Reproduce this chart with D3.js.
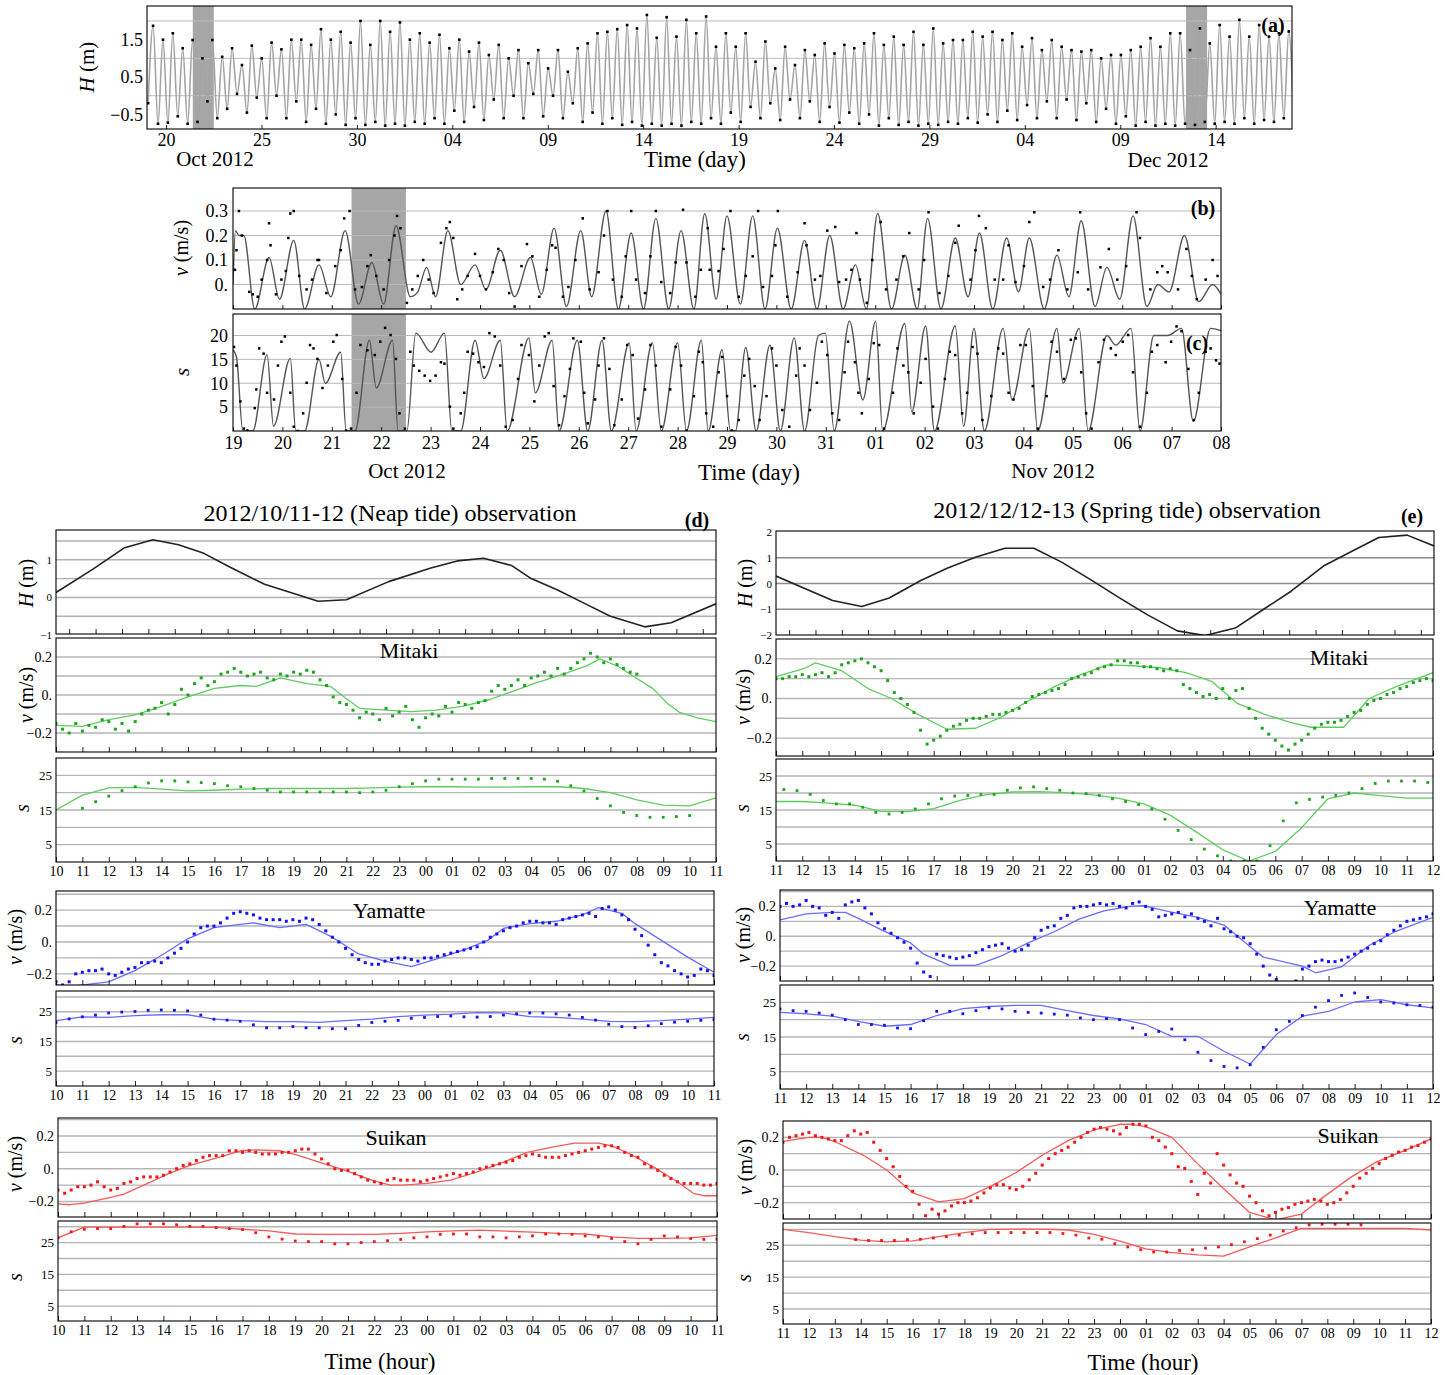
<!DOCTYPE html>
<html>
<head>
<meta charset="utf-8">
<title>Tide, velocity and salinity</title>
<style>
  body {margin: 0; background: #fff;}
  text {font-family: "Liberation Serif", "Times New Roman", serif; fill: #000;}
</style>
</head>
<body>
<svg width="1453" height="1375"></svg>
<script src="https://cdn.jsdelivr.net/npm/d3@7/dist/d3.min.js"></script>
<script>
// ================= data =================
// (a) tide level, alternating low / high water, regular half-cycle sampling
var tideT0 = 19.06, tideHalf = 0.25875;
var tideHighs = [1.87,1.5,1.67,1.27,1.49,1.0,1.49,1.04,1.27,0.82,1.34,1.0,1.42,1.24,1.5,1.5,1.36,1.78,1.5,1.71,
  1.42,2.0,1.36,2.0,1.71,1.96,1.5,1.67,1.42,1.63,1.27,1.5,1.18,1.42,1.09,1.36,1.0,1.22,0.87,1.22,
  0.73,1.22,0.64,1.27,1.4,1.67,1.71,1.78,1.89,1.8,2.16,1.55,2.1,
  1.58,2.03,1.67,2.12,1.31,1.67,1.31,1.67,0.91,1.45,0.73,1.31,0.82,1.22,1.09,1.4,1.13,1.36,1.27,1.4,
  1.67,1.36,1.58,1.36,1.71,1.36,1.8,1.4,1.49,1.49,1.71,1.58,1.71,1.49,1.67,1.31,1.54,1.22,1.49,1.31,
  1.22,1.18,1.22,1.0,1.09,1.09,1.22,1.31,1.54,1.31,1.67,1.67,1.22,1.8,1.4,1.89,1.58,2.03,1.58,1.89,1.58,1.67,1.72];
var tideLows = [-0.2,-0.75,-0.72,-0.55,-0.75,-0.7,-0.15,-0.6,-0.35,0.05,
  -0.45,-0.05,-0.6,0.0,-0.6,-0.15,-0.7,-0.35,
  -0.75,-0.5,-0.78,-0.6,-0.78,-0.7,-0.8,-0.75,-0.8,-0.7,-0.75,-0.6,-0.75,-0.4,
  -0.7,-0.3,-0.65,-0.1,-0.6,0.0,-0.6,0.05,-0.55,0.0,-0.6,-0.2,-0.7,-0.45,
  -0.75,-0.6,-0.78,-0.7,-0.8,-0.75,-0.8,-0.75,-0.8,-0.7,-0.75,-0.6,-0.75,-0.45,
  -0.7,-0.3,-0.6,-0.2,-0.65,-0.1,-0.6,-0.15,-0.7,-0.3,-0.72,-0.45,
  -0.75,-0.5,-0.8,-0.6,-0.78,-0.7,-0.8,-0.75,-0.78,-0.7,-0.75,-0.6,-0.72,-0.5,
  -0.7,-0.4,-0.65,-0.25,-0.6,-0.15,-0.6,-0.1,-0.65,-0.2,-0.7,-0.35,
  -0.75,-0.55,-0.8,-0.7,-0.8,-0.75,-0.8,-0.75,-0.78,-0.7,-0.75,-0.7,-0.75,-0.6,-0.75,-0.65,-0.7,-0.6,-0.65];
var shadeA = [[21.4, 22.5], [73.45, 74.55]];
var aTickDays = [20,25,30,35,40,45,50,55,60,65,70,75];
var aTickLabels = ["20","25","30","04","09","14","19","24","29","04","09","14"];

// (b) velocity, model knots [day of Oct, v] and observations
var bModel = [[19.0,0.0],[19.05,0.22],[19.12,0.2],[19.22,0.2],[19.44,-0.1],[19.73,0.11],[19.94,-0.06],[20.23,0.18],[20.45,-0.1],[20.74,0.08],
  [20.98,-0.05],[21.27,0.22],[21.54,-0.08],[21.81,0.09],[22.05,-0.08],[22.3,0.24],[22.59,-0.05],[22.74,-0.03],[22.92,0.07],[23.1,-0.05],
  [23.35,0.22],[23.61,0.0],[23.9,0.08],[24.12,-0.02],[24.41,0.14],[24.7,-0.05],[25.02,0.11],[25.24,-0.04],[25.5,0.23],[25.75,-0.09],
  [26.04,0.22],[26.26,-0.05],[26.55,0.3],[26.8,-0.1],[27.06,0.21],[27.31,-0.1],[27.56,0.27],[27.82,-0.1],[28.07,0.22],[28.33,-0.1],
  [28.55,0.29],[28.78,-0.06],[29.0,0.28],[29.27,-0.08],[29.52,0.28],[29.77,-0.1],[30.02,0.23],[30.3,-0.1],[30.57,0.18],[30.82,-0.1],
  [31.08,0.2],[31.35,-0.1],[31.6,0.08],[31.82,-0.1],[32.05,0.29],[32.33,-0.1],[32.6,0.12],[32.85,-0.1],[33.06,0.27],[33.33,-0.1],
  [33.62,0.19],[33.88,-0.05],[34.11,0.21],[34.38,-0.1],[34.66,0.19],[34.9,-0.03],[35.12,0.19],[35.42,-0.1],[35.68,0.12],[35.92,-0.05],
  [36.17,0.26],[36.45,-0.09],[36.69,0.07],[36.95,-0.06],[37.22,0.28],[37.5,-0.09],[37.72,0.0],[37.95,-0.03],[38.26,0.2],[38.55,-0.07],
  [38.83,0.0],[39.0,-0.04]];
var bObs = [[19.04,0.06],[19.07,0.14],[19.12,0.3],[19.18,0.2],[19.33,-0.03],[19.4,-0.04],[19.5,-0.05],[19.58,0.02],[19.69,0.1],[19.73,0.25],
  [19.76,0.16],[19.87,-0.04],[19.98,0.02],[20.07,0.055],[20.12,0.19],[20.16,0.29],[20.23,0.3],[20.34,0.035],[20.49,-0.02],[20.6,0.02],
  [20.71,0.1],[20.74,0.1],[20.89,-0.035],[21.07,0.075],[21.18,0.14],[21.25,0.27],[21.36,0.3],[21.47,-0.02],[21.61,-0.01],[21.72,0.075],
  [21.79,0.12],[21.9,0.035],[22.05,-0.02],[22.16,0.1],[22.27,0.2],[22.32,0.28],[22.39,0.23],[22.52,-0.075],[22.63,-0.02],[22.74,0.035],
  [22.85,0.1],[22.96,0.02],[23.06,-0.035],[23.21,0.17],[23.32,0.23],[23.39,0.255],[23.46,0.19],[23.54,-0.06],[23.64,-0.02],[23.75,0.035],
  [23.9,0.125],[24.0,0.035],[24.12,-0.02],[24.26,0.05],[24.37,0.145],[24.48,0.1],[24.59,-0.035],[24.7,-0.09],[24.84,0.075],[24.95,0.165],
  [25.06,0.115],[25.2,-0.05],[25.35,0.06],[25.46,0.16],[25.53,0.15],[25.68,-0.05],[25.79,-0.01],[25.93,0.1],[26.08,0.27],[26.22,-0.02],
  [26.4,0.05],[26.51,0.2],[26.58,0.3],[26.69,0.02],[26.87,-0.05],[26.95,0.115],[27.06,0.3],[27.16,0.02],[27.34,-0.035],[27.45,0.115],
  [27.56,0.3],[27.67,0.01],[27.85,-0.035],[27.96,0.09],[28.11,0.305],[28.18,0.09],[28.36,-0.05],[28.47,0.06],[28.61,0.23],[28.65,0.06],
  [28.83,0.055],[28.93,0.145],[29.07,0.3],[29.24,-0.05],[29.38,0.035],[29.52,0.115],[29.63,0.3],[29.73,-0.01],[29.91,0.035],[29.98,0.16],
  [30.03,0.3],[30.22,-0.05],[30.43,0.05],[30.57,0.25],[30.61,0.16],[30.78,0.02],[30.89,0.035],[31.03,0.22],[31.19,0.235],[31.27,0.01],
  [31.41,0.02],[31.52,0.06],[31.62,0.21],[31.69,0.02],[31.83,-0.075],[31.94,0.1],[32.11,0.255],[32.22,-0.02],[32.43,0.02],[32.57,0.115],
  [32.69,0.21],[32.88,-0.02],[32.99,0.1],[33.08,0.295],[33.3,-0.035],[33.48,0.035],[33.62,0.17],[33.69,0.24],[33.93,0.02],[34.03,0.14],
  [34.1,0.28],[34.24,0.23],[34.42,0.02],[34.59,0.02],[34.7,0.16],[34.84,0.01],[35.01,0.075],[35.12,0.255],[35.22,0.295],[35.4,-0.01],
  [35.54,0.02],[35.71,0.14],[35.89,-0.02],[36.1,0.05],[36.15,0.295],[36.31,-0.02],[36.56,0.07],[36.73,0.145],[36.9,0.02],[37.08,0.075],
  [37.29,0.295],[37.36,0.19],[37.57,-0.02],[37.71,0.05],[37.81,0.075],[37.92,0.05],[38.13,-0.02],[38.3,0.145],[38.41,0.035],[38.51,-0.06],
  [38.69,0.02],[38.83,0.1],[38.93,0.035]];

// (c) salinity, model knots and observations
var cModel = [[19.0,17],[19.07,15.5],[19.2,0],[19.4,0],[19.69,16],[19.82,1],[20.16,15.2],[20.27,0],[20.45,0],[20.74,15],
  [20.87,10],[21.18,16.5],[21.29,0],[21.47,0],[21.76,19],[21.9,9],[22.23,19],[22.34,0],[22.52,0],[22.7,20.5],
  [23.01,16.5],[23.28,20.5],[23.43,0],[23.61,0],[23.9,19],[24.08,11],[24.41,19],[24.55,0],[24.99,19.5],[25.12,8],
  [25.46,19],[25.6,0],[25.97,19],[26.18,0],[26.47,19],[26.66,0],[27.02,18.5],[27.16,0],[27.49,18.5],[27.67,0],
  [28.0,18.5],[28.18,0],[28.48,19],[28.62,0],[28.9,17],[29.07,0],[29.17,0],[29.38,17.5],[29.59,0],[29.87,18],
  [30.08,0],[30.36,19.5],[30.57,0],[30.85,20],[30.99,20.5],[31.17,0],[31.48,23],[31.75,6.5],[32.01,23],[32.15,0],
  [32.6,22.5],[32.74,4],[33.02,22],[33.2,0],[33.62,22],[33.79,1],[34.0,21.5],[34.21,0],[34.59,21.5],[34.77,6.5],
  [35.12,21.5],[35.29,0],[35.68,21.5],[35.8,10],[36.13,21.5],[36.31,0],[36.69,20],[36.87,18],[37.18,21.5],[37.36,0],
  [37.64,20],[37.92,20],[38.2,21.5],[38.44,2],[38.79,21.5],[39.0,21]];
var cObs = [[19.02,17.6],[19.07,13.7],[19.15,6.2],[19.22,0.5],[19.29,0.1],[19.44,4.8],[19.47,8.7],[19.53,17.3],[19.62,16.2],[19.69,8],
  [19.83,6.6],[19.91,13.7],[19.98,18.7],[20.05,19.8],[20.16,8],[20.23,0.9],[20.31,0],[20.42,3.7],[20.49,10.1],[20.56,18],
  [20.63,17.3],[20.71,15.1],[20.81,9],[20.92,13.7],[21.03,18.7],[21.1,20.1],[21.21,10.9],[21.29,0.1],[21.39,0.5],[21.5,8],
  [21.58,18],[21.72,16.9],[21.87,15.9],[21.98,18.7],[22.08,21.6],[22.19,20.1],[22.3,15.1],[22.37,3.7],[22.48,0.5],[22.59,16.6],
  [22.66,13.7],[22.77,12.6],[22.88,11.6],[22.99,10.5],[23.1,11.6],[23.21,14.4],[23.28,14.1],[23.39,5.1],[23.46,0.5],[23.61,3.7],
  [23.68,8],[23.75,16.6],[23.86,16.2],[23.97,14.4],[24.08,13.4],[24.19,20.5],[24.3,19.8],[24.41,13.7],[24.52,0.9],[24.66,2.3],
  [24.77,10.9],[24.84,18],[24.99,15.9],[25.1,6.2],[25.2,13.7],[25.31,19.8],[25.39,20.5],[25.49,9.4],[25.6,1.2],[25.71,7.3],
  [25.82,13],[25.89,19.4],[26.04,18.7],[26.11,8],[26.18,1.6],[26.33,6.6],[26.4,13.7],[26.51,19.4],[26.62,13],[26.72,1.2],
  [26.87,6.6],[26.98,18],[27.09,15.9],[27.2,2.6],[27.34,8.7],[27.45,18],[27.56,13.7],[27.67,0.9],[27.85,8.7],[27.96,17.6],
  [28.07,13.7],[28.18,0.1],[28.33,7.3],[28.43,16.6],[28.51,14.4],[28.58,3.7],[28.72,0.9],[28.83,12.3],[28.9,15.5],[29.0,7.3],
  [29.1,0.1],[29.24,2.3],[29.35,11.6],[29.45,15.1],[29.56,9.4],[29.66,2.3],[29.8,7.3],[29.91,17.3],[30.0,13.7],[30.12,4.4],
  [30.26,0.9],[30.4,11.6],[30.47,17.3],[30.57,13.7],[30.68,4.4],[30.82,10.1],[30.92,18.7],[31.03,15.9],[31.13,3.7],[31.27,2.3],
  [31.38,12.3],[31.45,18.7],[31.59,14.4],[31.66,8],[31.73,3.7],[31.87,10.9],[31.97,18.4],[32.08,18],[32.18,0.5],[32.36,8],
  [32.45,17.3],[32.57,13.7],[32.67,12.3],[32.78,3.7],[32.92,10.1],[33.02,15.1],[33.17,5.1],[33.27,0.5],[33.41,10.9],[33.51,16.6],
  [33.62,15.9],[33.76,3.7],[33.86,8],[33.97,17.6],[34.07,16.2],[34.17,2.3],[34.35,7.3],[34.49,17.3],[34.59,16.2],[34.7,8],
  [34.8,6.6],[34.94,18],[35.05,18],[35.19,9.4],[35.29,0.5],[35.47,7.3],[35.57,18.7],[35.68,16.6],[35.82,10.9],[35.96,19.1],
  [36.06,19.4],[36.17,12.3],[36.27,3.7],[36.38,0.5],[36.52,14.4],[36.63,19.1],[36.77,17.3],[36.87,15.9],[37.01,18.7],[37.12,20.1],
  [37.22,12.3],[37.36,0.9],[37.5,8],[37.6,16.6],[37.71,18],[37.88,14.4],[37.99,18.7],[38.1,21.9],[38.2,20.9],[38.34,13],
  [38.45,2.3],[38.55,8],[38.69,16.6],[38.79,17.3],[38.9,14.8],[38.97,14.1]];
var shadeB = [[21.4, 22.5]];
var bcTickDays = [19,20,21,22,23,24,25,26,27,28,29,30,31,32,33,34,35,36,37,38,39];
var bcTickLabels = ["19","20","21","22","23","24","25","26","27","28","29","30","31","01","02","03","04","05","06","07","08"];

// (d) neap tide 2012/10/11-12, hours counted from 00:00 of first day
var hoursD = [10,11,12,13,14,15,16,17,18,19,20,21,22,23,24,25,26,27,28,29,30,31,32,33,34,35];
var labelsD = ["10","11","12","13","14","15","16","17","18","19","20","21","22","23","00","01","02","03","04","05","06","07","08","09","10","11"];
var hD = [[10,0.13],[11.4,0.75],[12.6,1.32],[13.67,1.53],[14.64,1.4],[15.6,1.17],[16.6,0.8],[17.9,0.35],[19.93,-0.1],[21.0,-0.06],
  [22.6,0.42],[24.2,0.78],[25.2,0.97],[26.2,1.04],[27.25,0.85],[28,0.5],[29,0.2],[30,-0.15],[31,-0.5],[32.3,-0.78],[33.3,-0.67],[35,-0.17]];
var dMitV = [[10,-0.16],[11,-0.165],[12,-0.13],[13,-0.105],[14,-0.06],[15,-0.01],[16,0.035],[17,0.05],[17.6,0.045],[18.5,0.09],
  [19.5,0.06],[20.4,0.045],[21,-0.02],[21.5,-0.07],[22.5,-0.08],[23.45,-0.087],[24.4,-0.08],[25.4,-0.06],[26.4,-0.025],[27.25,0.017],
  [28.1,0.06],[29.1,0.105],[30.1,0.153],[30.6,0.19],[31.3,0.15],[32,0.087],[32.6,0.035],[33.15,-0.043],[33.6,-0.09],[34.3,-0.12],[35,-0.14]];
var dMitVObs = [-0.15,-0.18,-0.2,-0.15,-0.19,-0.16,-0.17,-0.13,-0.14,-0.18,-0.15,-0.19,-0.14,-0.1,-0.08,-0.07,-0.04,-0.1,-0.05,0.03,
  0.0,0.06,0.09,0.05,0.07,0.11,0.12,0.14,0.12,0.1,0.11,0.12,0.09,0.08,0.11,0.1,0.12,0.11,0.13,0.12,
  0.08,0.05,-0.01,-0.04,-0.05,-0.08,-0.12,-0.09,-0.1,-0.13,-0.07,-0.11,-0.09,-0.06,-0.13,-0.17,-0.12,-0.1,-0.11,-0.06,
  -0.09,-0.04,-0.05,-0.07,-0.04,-0.03,0.02,0.05,0.03,0.05,0.08,0.05,0.09,0.1,0.12,0.1,0.14,0.11,0.14,0.17,
  0.19,0.22,0.2,0.17,0.19,0.16,0.14,0.12,0.11];
var dMitS = [15,19.3,21.4,21.5,21,20.5,20.7,21,21.2,21.2,21.2,21.2,21.4,21.6,21.7,21.7,21.6,21.6,21.7,21.7,21.2,20,17.9,16.4,16.2,18.5];
var dMitSObs = [15.5,17.4,19.0,20.6,21.7,22.8,23.4,23.4,23.1,22.9,22.6,22.0,21.7,21.2,20.7,20.2,20.2,20.2,20.2,20.2,
  20.2,20.0,20.2,20.7,21.7,22.6,23.4,23.9,23.9,23.9,23.9,24.1,24.1,24.1,24.1,23.9,23.3,22.0,20.5,18.3,
  16.2,14.3,13.4,12.9,12.9,13.1,13.4];
var dYamV = [[10,-0.27],[10.5,-0.28],[12,-0.25],[13,-0.18],[14,-0.085],[15,0.02],[16,0.09],[17,0.11],[17.5,0.12],[18.5,0.09],
  [19.5,0.11],[20.5,0.03],[21.5,-0.075],[22.5,-0.12],[23.5,-0.155],[24.5,-0.105],[25.5,-0.05],[26.4,0.01],[27,0.085],[28,0.115],
  [29,0.13],[30,0.17],[30.6,0.215],[31.5,0.18],[32,0.115],[33,0.01],[34,-0.095],[35,-0.19]];
var dYamVObs = [-0.25,-0.27,-0.25,-0.2,-0.19,-0.18,-0.18,-0.17,-0.2,-0.21,-0.19,-0.17,-0.16,-0.13,-0.13,-0.12,-0.13,-0.1,-0.07,-0.04,
  0.0,0.05,0.09,0.1,0.1,0.12,0.15,0.18,0.19,0.18,0.17,0.15,0.14,0.14,0.14,0.13,0.14,0.13,0.15,0.14,
  0.11,0.07,0.03,0.0,-0.04,-0.08,-0.11,-0.13,-0.14,-0.14,-0.12,-0.11,-0.1,-0.1,-0.11,-0.12,-0.1,-0.1,-0.09,-0.08,
  -0.07,-0.06,-0.05,-0.04,-0.03,0.0,0.03,0.05,0.07,0.09,0.1,0.12,0.13,0.13,0.12,0.12,0.11,0.14,0.15,0.16,
  0.17,0.18,0.16,0.21,0.22,0.2,0.17,0.14,0.08,0.04,-0.02,-0.08,-0.13,-0.15,-0.18,-0.2,-0.22,-0.21,-0.17,-0.18,-0.21];
var dYamS = [22,23.3,23.1,23.7,24,24,22.5,22,21.7,21.7,21.4,22,22.5,23.4,23.9,24.2,24.7,24.6,23.4,23.1,22.5,21.8,21.7,22,22.5,23.1];
var dYamSObs = [21.4,22.6,23.3,23.9,24.6,24.9,25.1,25.5,25.6,25.5,25.3,23.9,22.5,22.2,21.8,20.6,19.6,19.6,20.0,19.6,
  19.6,19.3,19.3,20.4,21.4,21.8,22.1,22.8,23.1,23.4,23.6,23.3,23.2,23.4,23.9,24.3,24.6,24.6,24.3,23.9,
  23.1,22.2,20.8,20.0,19.7,20.3,21.0,21.5,21.8,22.1,22.4];
var dSuiV = [[10,-0.215],[10.45,-0.22],[11,-0.21],[12,-0.175],[12.5,-0.155],[13.4,-0.09],[14.2,-0.03],[15,0.02],[16,0.065],[16.95,0.11],
  [17.5,0.115],[18.4,0.11],[19.05,0.085],[19.9,0.04],[20.9,-0.01],[21.9,-0.07],[22.6,-0.1],[23.1,-0.1],[24,-0.09],[24.9,-0.07],
  [25.9,-0.02],[26.9,0.04],[27.8,0.1],[28.7,0.13],[29.6,0.157],[30.5,0.157],[31,0.14],[31.7,0.09],[32.6,0.01],[33.5,-0.08],
  [34.1,-0.15],[34.5,-0.165],[35,-0.165]];
var dSuiVObs = [-0.13,-0.15,-0.13,-0.11,-0.11,-0.1,-0.08,-0.11,-0.13,-0.12,-0.09,-0.08,-0.06,-0.05,-0.05,-0.05,-0.04,-0.02,0.0,0.02,
  0.03,0.05,0.07,0.08,0.08,0.08,0.11,0.11,0.1,0.11,0.1,0.09,0.09,0.09,0.1,0.1,0.11,0.12,0.12,0.09,
  0.06,0.03,0.0,-0.01,-0.01,-0.03,-0.05,-0.07,-0.08,-0.09,-0.07,-0.06,-0.07,-0.07,-0.07,-0.08,-0.07,-0.06,-0.05,-0.04,
  -0.03,-0.04,-0.03,-0.02,0.0,0.01,0.02,0.03,0.04,0.05,0.07,0.08,0.09,0.08,0.07,0.07,0.07,0.08,0.09,0.1,
  0.11,0.12,0.13,0.14,0.14,0.13,0.1,0.08,0.07,0.03,0.01,-0.01,-0.04,-0.06,-0.08,-0.09,-0.09,-0.09,-0.1,-0.1,-0.09];
var dSuiS = [26.5,29.9,29.9,29.9,29.9,29.9,29.8,29.2,28.7,27.7,27.6,27.6,27.6,27.9,28.4,28.7,28.9,28.6,28.3,27.9,27.7,26.8,26.3,26.3,26.5,27.3];
var dSuiSObs = [26.5,28.4,29.2,29.4,29.4,30.1,30.9,30.9,30.9,30.6,30.1,30.1,29.7,29.4,29.1,28.1,26.8,26.1,25.5,25.3,
  25.3,24.6,24.6,25,25.3,25.6,26,26.5,26.8,27.6,27.7,27.7,26.8,26.8,26.5,26.8,27.1,27.7,27.7,27.6,
  27.1,26.8,26.3,25.3,24.6,26,27.1,26.8,26.3,26,26.1];

// (e) spring tide 2012/12/12-13
var hoursE = [11,12,13,14,15,16,17,18,19,20,21,22,23,24,25,26,27,28,29,30,31,32,33,34,35,36];
var labelsE = ["11","12","13","14","15","16","17","18","19","20","21","22","23","00","01","02","03","04","05","06","07","08","09","10","11","12"];
var hE = [[11,0.29],[13.15,-0.66],[14.26,-0.89],[15.3,-0.56],[16.5,0.12],[17.5,0.59],[18.6,1.03],[19.7,1.37],[20.8,1.37],[21.85,0.83],
  [23.0,0.12],[24.05,-0.56],[25.1,-1.21],[26.25,-1.84],[27.3,-2.02],[28.45,-1.73],[29.5,-1.02],[30.57,-0.3],[31.8,0.68],[32.9,1.26],
  [33.9,1.79],[34.98,1.88],[36,1.46]];
var eMitV = [[11,0.11],[12.06,0.15],[12.5,0.18],[13.5,0.14],[14.5,0.05],[15.4,0.0],[16.4,-0.08],[17.5,-0.155],[18.6,-0.15],[19.55,-0.095],
  [20.5,-0.02],[21.6,0.06],[22.6,0.12],[23.6,0.17],[24.6,0.165],[25.6,0.155],[26.6,0.13],[27.6,0.085],[28.55,-0.025],[29.6,-0.08],
  [30.57,-0.12],[31.35,-0.145],[32.6,-0.145],[33.57,0.0],[34.6,0.06],[36,0.13]];
var eMitVObs = [0.1,0.1,0.11,0.11,0.12,0.11,0.12,0.13,0.11,0.13,0.17,0.18,0.19,0.2,0.18,0.16,0.14,0.09,0.03,0.0,
  -0.03,-0.07,-0.16,-0.23,-0.21,-0.19,-0.16,-0.14,-0.13,-0.11,-0.1,-0.1,-0.09,-0.08,-0.08,-0.07,-0.06,-0.05,-0.02,0.01,
  0.02,0.03,0.04,0.05,0.07,0.1,0.11,0.12,0.13,0.15,0.16,0.17,0.19,0.19,0.18,0.18,0.16,0.16,0.15,0.14,
  0.15,0.14,0.07,0.05,0.03,0.01,0.02,0.0,0.05,0.0,0.04,0.05,-0.05,-0.1,-0.15,-0.18,-0.21,-0.24,-0.26,-0.23,
  -0.21,-0.18,-0.15,-0.13,-0.12,-0.12,-0.11,-0.09,-0.07,-0.06,-0.03,-0.01,0.0,0.02,0.03,0.05,0.06,0.08,0.09,0.1,0.09];
var eMitS = [17.5,17.5,17,16.4,14.6,14.5,15.4,17.8,19.5,20.3,20.4,20.1,19.5,18.5,16.8,13.5,8.5,3.3,0,2.8,9.8,18.3,20,19.2,18.5,18.5];
var eMitSObs = [21,20.7,19.6,17.8,16.8,16.8,15.8,14.3,13.8,14.3,15.3,16.8,18.3,19.1,19.3,19.6,19.6,20.8,21.5,21.8,
  21.3,20.8,20,19.8,19.3,18.3,17.5,16.6,15.3,12.3,9,6.3,3.5,1.5,0,0,0,4.5,11.8,17.1,
  18.1,18.8,19.3,20,21.3,22.8,23.5,23.5,23.5,23.1];
var eYamV = [[11,0.11],[12,0.15],[13,0.16],[13.5,0.16],[14,0.12],[15,0.033],[16,-0.045],[16.5,-0.12],[17.5,-0.195],[18.5,-0.195],
  [19.5,-0.13],[20.5,-0.045],[21.5,0.03],[22.45,0.115],[23.4,0.17],[24.4,0.2],[24.9,0.205],[25.9,0.165],[27,0.127],[28,0.075],
  [29,-0.07],[29.5,-0.14],[31,-0.2],[31.5,-0.245],[32.5,-0.205],[33.55,-0.062],[34.5,0.027],[36,0.127]];
var eYamVObs = [0.2,0.22,0.2,0.21,0.24,0.2,0.19,0.14,0.16,0.12,0.21,0.23,0.24,0.19,0.15,0.09,0.05,0.02,-0.01,-0.04,
  -0.08,-0.18,-0.24,-0.27,-0.12,-0.13,-0.14,-0.15,-0.14,-0.13,-0.11,-0.09,-0.07,-0.06,-0.05,-0.08,-0.1,-0.09,-0.06,-0.01,
  0.04,0.06,0.07,0.12,0.14,0.19,0.2,0.2,0.21,0.22,0.21,0.22,0.2,0.19,0.22,0.23,0.2,0.18,0.13,0.14,
  0.15,0.16,0.13,0.15,0.12,0.1,0.07,0.12,0.05,0.03,0.0,-0.01,-0.05,-0.12,-0.2,-0.26,-0.29,-0.32,-0.34,-0.3,
  -0.22,-0.2,-0.17,-0.16,-0.17,-0.17,-0.16,-0.14,-0.12,-0.1,-0.08,-0.05,-0.03,0.01,0.04,0.07,0.1,0.11,0.12,0.13,0.15];
var eYamS = [22.1,21.7,21,19.5,18.1,18.6,21.2,23.2,23.8,24.1,24.1,22.6,21.2,20.2,18.6,15.2,15.2,10.9,7.2,15.7,21,22.4,25.1,25.8,24.3,23.4];
var eYamSObs = [23.1,22.6,22.4,21.9,21.3,20,18.6,18.6,18.4,17.6,17.4,19.7,22.4,22.4,21.7,22.6,23.4,23.1,22.4,22.1,
  21.9,21.6,21.3,20.5,20,20.3,20,17.6,15.7,16.6,17.3,14.2,10.6,8.2,6.5,6.1,7,12,17.1,19.5,
  21.2,23.6,25.5,27,27.7,26.4,25.1,24.8,24.3,24.1,23.6];
var eSuiV = [[11,0.175],[12,0.2],[12.5,0.2],[13.05,0.17],[14.1,0.09],[15,0],[16,-0.14],[17,-0.195],[18,-0.175],[19,-0.1],
  [20,-0.015],[21,0.09],[22,0.18],[23,0.245],[24,0.28],[24.45,0.28],[25,0.265],[26,0.2],[26.95,0.045],[27.9,-0.1],
  [29,-0.26],[30,-0.305],[31,-0.27],[31.9,-0.16],[32.9,-0.045],[33.9,0.05],[35,0.12],[36,0.19]];
var eSuiVObs = [0.17,0.2,0.21,0.22,0.23,0.21,0.2,0.19,0.18,0.18,0.21,0.24,0.22,0.23,0.17,0.12,0.07,0.02,-0.04,-0.1,
  -0.13,-0.21,-0.28,-0.24,-0.27,-0.25,-0.22,-0.2,-0.2,-0.19,-0.17,-0.14,-0.11,-0.09,-0.09,-0.11,-0.12,-0.1,-0.06,-0.02,
  0.03,0.07,0.1,0.12,0.14,0.17,0.2,0.23,0.25,0.26,0.25,0.24,0.22,0.26,0.28,0.28,0.27,0.2,0.18,0.14,
  0.1,0.02,0.01,-0.07,-0.15,-0.02,-0.08,0.1,0.03,-0.03,-0.08,-0.1,-0.16,-0.2,-0.25,-0.28,-0.26,-0.24,-0.23,-0.21,
  -0.2,-0.19,-0.18,-0.19,-0.21,-0.2,-0.18,-0.14,-0.1,-0.05,-0.02,0.01,0.04,0.07,0.09,0.11,0.12,0.14,0.15,0.17,0.19];
var eSuiS = [30,29,27.7,26.6,26.1,26.4,27.7,29,30,30.1,30.1,29.8,28.4,26.3,23.9,22.7,22,21.6,24.5,27.3,30.3,30.3,30.3,30.3,30.3,29.8];
var eSuiSObs = [26.8,26.5,26.5,26.5,26.8,26.9,27.3,27.7,28.2,28.6,29,29,29,29,29,29,28.7,28.2,27.3,26.9,
  25.5,24.5,23.6,22.9,22.9,23.4,23.6,24.1,24.5,25.2,26.1,27.1,28.2,29.5,30.5,31.4,31.6,31.6,31.6,31.4];

// ================= drawing =================
var svg = d3.select("svg");
var serif = '"Liberation Serif","Times New Roman",serif';
var clipN = 0;

// sampled series -> [time, value]
function sampled(vals, start, step) {
  return vals.map(function(v, i) { return [start + i * step, v]; });
}

function panel(p) {
  var x = d3.scaleLinear().domain(p.xd).range([p.x0, p.x1]);
  var y = d3.scaleLinear().domain(p.yd).range([p.y1, p.y0]);
  var g = svg.append("g");
  var id = "clip" + (clipN++);
  svg.append("clipPath").attr("id", id).append("rect")
      .attr("x", p.x0).attr("y", p.y0).attr("width", p.x1 - p.x0).attr("height", p.y1 - p.y0);

  var plot = g.append("g").attr("clip-path", "url(#" + id + ")");

  (p.shade || []).forEach(function(s) {
    plot.append("rect").attr("x", x(s[0])).attr("width", x(s[1]) - x(s[0]))
        .attr("y", p.y0).attr("height", p.y1 - p.y0).attr("fill", "#a6a6a6");
  });

  plot.selectAll("line.grid").data(p.grid || []).join("line").attr("class", "grid")
      .attr("x1", p.x0).attr("x2", p.x1)
      .attr("y1", function(d) { return y(d); }).attr("y2", function(d) { return y(d); })
      .attr("stroke", p.gridColor || "#b5b5b5").attr("stroke-width", p.gridWidth || 1);

  return {x: x, y: y, g: g, plot: plot, p: p};
}

function finish(P) {
  var p = P.p;
  if (p.innerTicks) {
    P.g.append("g").attr("transform", "translate(0," + p.y1 + ")")
        .call(d3.axisTop(P.x).tickValues(p.innerTicks).tickSize(p.tickLen || 5).tickFormat(""))
        .call(function(a) { a.select(".domain").remove(); })
        .selectAll("line").attr("stroke", "#222");
  }
  if (p.yTicks) {
    P.g.append("g").attr("transform", "translate(" + p.x0 + ",0)")
        .call(d3.axisLeft(P.y).tickValues(p.yTicks).tickSize(0).tickPadding(p.yPad || 4)
          .tickFormat(function(d, i) { return p.yLabels[i]; }))
        .call(function(a) { a.select(".domain").remove(); })
        .selectAll("text").style("font-family", serif).style("font-size", p.yFont + "px").attr("fill", "#000");
  }
  if (p.xTicks) {
    P.g.append("g").attr("transform", "translate(0," + p.y1 + ")")
        .call(d3.axisBottom(P.x).tickValues(p.xTicks).tickSize(0).tickPadding(p.xPad || 5)
          .tickFormat(function(d, i) { return p.xLabels[i]; }))
        .call(function(a) { a.select(".domain").remove(); })
        .selectAll("text").style("font-family", serif).style("font-size", p.xFont + "px").attr("fill", "#000");
  }
  P.g.append("rect").attr("x", p.x0).attr("y", p.y0)
      .attr("width", p.x1 - p.x0).attr("height", p.y1 - p.y0)
      .attr("fill", "none").attr("stroke", "#000").attr("stroke-width", 1.1);
}

function drawLine(P, data, color, width, curve) {
  P.plot.append("path").datum(data)
      .attr("fill", "none").attr("stroke", color).attr("stroke-width", width)
      .attr("stroke-linejoin", "round")
      .attr("d", d3.line().x(function(d) { return P.x(d[0]); }).y(function(d) { return P.y(d[1]); })
        .curve(curve || d3.curveLinear));
}

function drawDots(P, data, color, size) {
  P.plot.append("g").selectAll("rect").data(data).join("rect")
      .attr("x", function(d) { return P.x(d[0]) - size / 2; })
      .attr("y", function(d) { return P.y(d[1]) - size / 2; })
      .attr("width", size).attr("height", size).attr("fill", color);
}

function label(txt, x, y, size, opts) {
  opts = opts || {};
  var t = svg.append("text").attr("x", x).attr("y", y)
      .attr("text-anchor", opts.anchor || "middle")
      .style("font-size", size + "px");
  if (opts.bold) t.style("font-weight", "bold");
  if (opts.rotate) t.attr("transform", "rotate(-90," + x + "," + y + ")");
  if (opts.italic) {
    t.append("tspan").style("font-style", "italic").text(opts.italic);
    t.append("tspan").text(txt);
  } else {
    t.text(txt);
  }
  return t;
}

// ---------- panel (a) ----------
var tideSeries = [];
tideLows.forEach(function(l, k) {
  tideSeries.push([tideT0 + 2 * k * tideHalf, l]);
  if (k < tideHighs.length) tideSeries.push([tideT0 + (2 * k + 1) * tideHalf, tideHighs[k]]);
});

var PA = panel({x0: 147, x1: 1292, y0: 6, y1: 129, xd: [19, 79], yd: [-0.89, 2.4],
  grid: [0, 1, 2], gridColor: "#bcbcbc", shade: shadeA,
  yTicks: [-0.5, 0.5, 1.5], yLabels: ["\u22120.5", "0.5", "1.5"], yFont: 18, yPad: 4,
  xTicks: aTickDays, xLabels: aTickLabels, xFont: 18, xPad: 4, innerTicks: aTickDays, tickLen: 4});
drawLine(PA, tideSeries, "#a4a4a4", 1.6, d3.curveMonotoneX);
drawDots(PA, tideSeries, "#000", 2.6);
finish(PA);
label("(a)", 1273, 32, 20, {bold: true});
label(" (m)", 94, 67, 21, {rotate: true, italic: "H"});
label("Oct 2012", 215, 166, 21);
label("Time (day)", 695, 167, 23);
label("Dec 2012", 1168, 167, 21);

// ---------- panel (b) ----------
var PB = panel({x0: 233, x1: 1221, y0: 188, y1: 309, xd: [19, 39], yd: [-0.1, 0.394],
  grid: [0, 0.1, 0.2, 0.3], gridColor: "#b8b8b8", shade: shadeB,
  yTicks: [0, 0.1, 0.2, 0.3], yLabels: ["0.", "0.1", "0.2", "0.3"], yFont: 18, yPad: 5,
  innerTicks: bcTickDays, tickLen: 4});
drawLine(PB, bModel, "#555", 1.4, d3.curveMonotoneX);
drawDots(PB, bObs, "#000", 2.5);
finish(PB);
label("(b)", 1203, 215, 20, {bold: true});
label(" (m/s)", 188, 248, 20, {rotate: true, italic: "v"});

// ---------- panel (c) ----------
var PC = panel({x0: 233, x1: 1221, y0: 314, y1: 431, xd: [19, 39], yd: [0, 24.5],
  grid: [5, 10, 15, 20], gridColor: "#b8b8b8", shade: shadeB,
  yTicks: [5, 10, 15, 20], yLabels: ["5", "10", "15", "20"], yFont: 18, yPad: 5,
  xTicks: bcTickDays, xLabels: bcTickLabels, xFont: 18, xPad: 5, innerTicks: bcTickDays, tickLen: 4});
drawLine(PC, cModel, "#555", 1.4, d3.curveMonotoneX);
drawDots(PC, cObs, "#000", 2.5);
finish(PC);
label("(c)", 1197, 350, 20, {bold: true});
label("", 189, 372, 21, {rotate: true, italic: "s"});
label("Oct 2012", 407, 478, 21);
label("Time (day)", 749, 480, 23);
label("Nov 2012", 1053, 478, 21);

// ---------- panels (d) and (e) ----------
var green = {dot: "#1ea51e", line: "#5fcc5f"},
    blue = {dot: "#1414f0", line: "#6a6cff"},
    red = {dot: "#f01818", line: "#f45a5a"};

function hPanel(b, hours, data, yd, grid, ticks, labels, gridColor, halfTicks) {
  var P = panel({x0: b[0], x1: b[1], y0: b[2], y1: b[3], xd: [hours[0], hours[hours.length - 1]], yd: yd,
    grid: grid, gridColor: gridColor, gridWidth: 1.4,
    yTicks: ticks, yLabels: labels, yFont: 11, yPad: 4,
    innerTicks: halfTicks, tickLen: 5});
  drawLine(P, data, "#222", 1.6);
  finish(P);
}

function vPanel(b, hours, model, obs, col, yd, grid) {
  var P = panel({x0: b[0], x1: b[1], y0: b[2], y1: b[3], xd: [hours[0], hours[hours.length - 1]], yd: yd,
    grid: grid, gridWidth: 1.4,
    yTicks: [-0.2, 0, 0.2], yLabels: ["\u22120.2", "0.", "0.2"], yFont: 14, yPad: 4,
    innerTicks: hours, tickLen: 5});
  drawLine(P, model, col.line, 1.3);
  drawDots(P, obs, col.dot, 3);
  finish(P);
}

function sPanel(b, hours, labels, model, obs, col, yd, grid) {
  var P = panel({x0: b[0], x1: b[1], y0: b[2], y1: b[3], xd: [hours[0], hours[hours.length - 1]], yd: yd,
    grid: grid, gridWidth: 1.4,
    yTicks: [5, 15, 25], yLabels: ["5", "15", "25"], yFont: 13, yPad: 4,
    xTicks: hours, xLabels: labels, xFont: 14, xPad: 4,
    innerTicks: hours, tickLen: 5});
  drawLine(P, model, col.line, 1.3);
  drawDots(P, obs, col.dot, 2.8);
  finish(P);
}

function hourly(vals, hours) { return vals.map(function(v, i) { return [hours[i], v]; }); }

// (d) neap tide
var halfD = hoursD.slice(0, -1).map(function(h) { return h + 0.5; });
label("2012/10/11-12 (Neap tide) observation", 390, 521, 24);
label("(d)", 697, 527, 20, {bold: true});
hPanel([56, 716, 530, 634], hoursD, hD, [-0.97, 1.79], [-0.5, 0, 0.5, 1, 1.5], [-1, 0, 1], ["\u22121", "0", "1"], "#b0b0b0", halfD);
label(" (m)", 33, 583, 20, {rotate: true, italic: "H"});

vPanel([56, 716, 638, 752], hoursD, dMitV, sampled(dMitVObs, 10, 0.25), green, [-0.3, 0.3], [-0.2, -0.1, 0, 0.1, 0.2]);
label("Mitaki", 409, 658, 22);
label(" (m/s)", 33, 695, 20, {rotate: true, italic: "v"});
sPanel([56, 716, 758, 862], hoursD, labelsD, hourly(dMitS, hoursD), sampled(dMitSObs, 11, 0.5), green, [0, 30], [5, 10, 15, 20, 25]);
label("", 29, 808, 20, {rotate: true, italic: "s"});

vPanel([56, 714, 891, 985], hoursD, dYamV, sampled(dYamVObs, 10, 0.25), blue, [-0.27, 0.32], [-0.2, -0.1, 0, 0.1, 0.2, 0.3]);
label("Yamatte", 389, 918, 22);
label(" (m/s)", 22, 937, 20, {rotate: true, italic: "v"});
sPanel([56, 714, 991, 1086], hoursD, labelsD, hourly(dYamS, hoursD), sampled(dYamSObs, 10, 0.5), blue, [0, 32], [5, 10, 15, 20, 25, 30]);
label("", 22, 1040, 20, {rotate: true, italic: "s"});

vPanel([58, 717, 1118, 1217], hoursD, dSuiV, sampled(dSuiVObs, 10, 0.25), red, [-0.295, 0.31], [-0.2, -0.1, 0, 0.1, 0.2, 0.3]);
label("Suikan", 396, 1145, 22);
label(" (m/s)", 22, 1164, 20, {rotate: true, italic: "v"});
sPanel([58, 717, 1221, 1321], hoursD, labelsD, hourly(dSuiS, hoursD), sampled(dSuiSObs, 10, 0.5), red, [0.3, 31.8], [5, 10, 15, 20, 25, 30]);
label("", 22, 1277, 20, {rotate: true, italic: "s"});
label("Time (hour)", 380, 1369, 23);

// (e) spring tide
var halfE = hoursE.slice(0, -1).map(function(h) { return h + 0.5; });
label("2012/12/12-13 (Spring tide) observation", 1127, 518, 24);
label("(e)", 1412, 523, 20, {bold: true});
hPanel([776, 1434, 531, 635], hoursE, hE, [-2, 2.04], [-1, 0, 1], [-2, -1, 0, 1, 2], ["\u22122", "\u22121", "0", "1", "2"], "#8c8c8c", halfE);
label(" (m)", 752, 583, 20, {rotate: true, italic: "H"});

vPanel([776, 1433, 639, 756], hoursE, eMitV, sampled(eMitVObs, 11, 0.25), green, [-0.29, 0.3], [-0.2, -0.1, 0, 0.1, 0.2]);
label("Mitaki", 1339, 665, 22);
label(" (m/s)", 750, 697, 20, {rotate: true, italic: "v"});
sPanel([776, 1433, 759, 861], hoursE, labelsE, hourly(eMitS, hoursE), sampled(eMitSObs, 11.3, 0.5), green, [0, 30], [5, 10, 15, 20, 25]);
label("", 749, 808, 20, {rotate: true, italic: "s"});

vPanel([780, 1433, 890, 981], hoursE, eYamV, sampled(eYamVObs, 11, 0.25), blue, [-0.3, 0.31], [-0.2, -0.1, 0, 0.1, 0.2, 0.3]);
label("Yamatte", 1340, 915, 22);
label(" (m/s)", 750, 935, 20, {rotate: true, italic: "v"});
sPanel([780, 1433, 985, 1089], hoursE, labelsE, hourly(eYamS, hoursE), sampled(eYamSObs, 11, 0.5), blue, [0, 30], [5, 10, 15, 20, 25]);
label("", 749, 1037, 20, {rotate: true, italic: "s"});

vPanel([783, 1431, 1121, 1219], hoursE, eSuiV, sampled(eSuiVObs, 11, 0.25), red, [-0.3, 0.3], [-0.2, -0.1, 0, 0.1, 0.2]);
label("Suikan", 1348, 1143, 22);
label(" (m/s)", 752, 1167, 20, {rotate: true, italic: "v"});
sPanel([783, 1431, 1223, 1324], hoursE, labelsE, hourly(eSuiS, hoursE), sampled(eSuiSObs, 13.8, 0.5), red, [0.3, 32], [5, 10, 15, 20, 25, 30]);
label("", 751, 1278, 20, {rotate: true, italic: "s"});
label("Time (hour)", 1143, 1370, 23);
</script>
</body>
</html>
